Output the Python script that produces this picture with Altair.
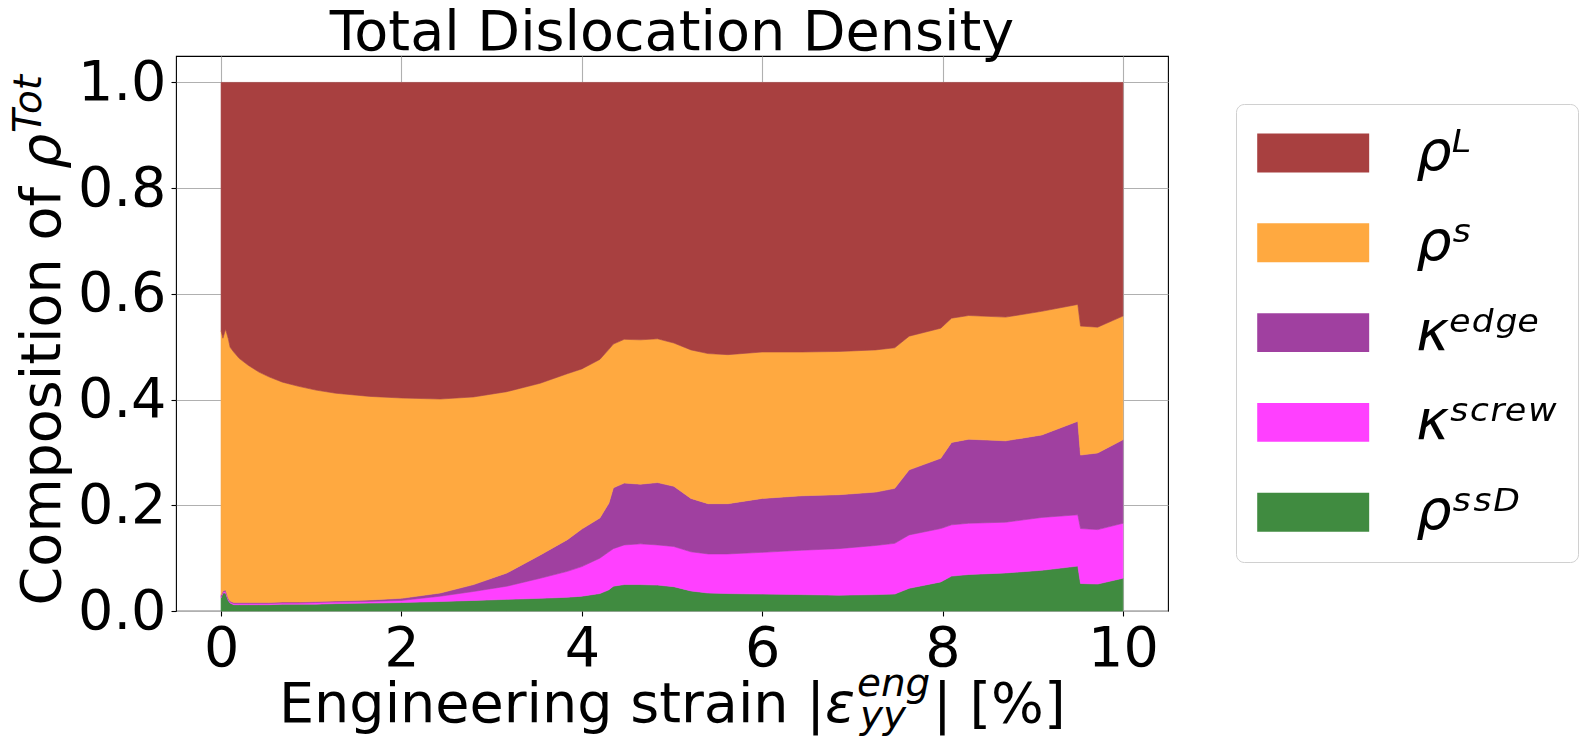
import altair as alt
import pandas as pd

# strain values [%]
strain = [0.0, 0.02, 0.05, 0.08, 0.1, 0.14, 0.2, 0.3, 0.42, 0.53, 0.68, 0.86, 1.05, 1.27,
          1.65, 2.0, 2.43, 2.8, 3.17, 3.54, 3.84, 4.0, 4.2, 4.3, 4.35, 4.47, 4.65, 4.84,
          5.02, 5.21, 5.4, 5.62, 6.0, 6.44, 6.85, 7.26, 7.47, 7.63, 7.98, 8.1, 8.29, 8.7,
          9.1, 9.5, 9.53, 9.72, 10.0]

# cumulative upper boundaries of each band
ssd_top = [0.025, 0.034, 0.034, 0.020, 0.015, 0.012, 0.012, 0.012, 0.012, 0.012, 0.013, 0.013,
           0.013, 0.014, 0.015, 0.016, 0.018, 0.020, 0.022, 0.024, 0.026, 0.028, 0.033, 0.040,
           0.047, 0.050, 0.050, 0.049, 0.046, 0.038, 0.034, 0.033, 0.032, 0.031, 0.030, 0.031,
           0.032, 0.043, 0.055, 0.066, 0.069, 0.072, 0.077, 0.085, 0.052, 0.051, 0.062]
screw_top = [0.027, 0.036, 0.037, 0.022, 0.017, 0.014, 0.014, 0.014, 0.014, 0.014, 0.015, 0.015,
             0.016, 0.017, 0.018, 0.020, 0.028, 0.037, 0.047, 0.062, 0.075, 0.084, 0.100, 0.112,
             0.118, 0.125, 0.127, 0.125, 0.122, 0.112, 0.108, 0.108, 0.111, 0.115, 0.118, 0.124,
             0.128, 0.144, 0.156, 0.163, 0.166, 0.168, 0.177, 0.182, 0.156, 0.154, 0.166]
edge_top = [0.030, 0.038, 0.040, 0.024, 0.019, 0.016, 0.016, 0.016, 0.016, 0.016, 0.017, 0.017,
            0.018, 0.019, 0.021, 0.024, 0.034, 0.050, 0.072, 0.106, 0.135, 0.155, 0.176, 0.204,
            0.233, 0.242, 0.240, 0.243, 0.236, 0.213, 0.203, 0.203, 0.213, 0.218, 0.220, 0.225,
            0.232, 0.267, 0.289, 0.319, 0.325, 0.322, 0.333, 0.359, 0.295, 0.299, 0.324]
s_top = [0.530, 0.516, 0.533, 0.515, 0.499, 0.490, 0.478, 0.465, 0.452, 0.443, 0.433, 0.425,
         0.418, 0.412, 0.406, 0.403, 0.401, 0.405, 0.415, 0.431, 0.449, 0.458, 0.476, 0.495,
         0.505, 0.514, 0.513, 0.515, 0.507, 0.494, 0.487, 0.485, 0.490, 0.490, 0.491, 0.494,
         0.498, 0.520, 0.535, 0.554, 0.559, 0.556, 0.567, 0.580, 0.539, 0.537, 0.558]
total_top = [1.0] * len(strain)

series = ["ρᴸ", "ρˢ", "κᵉᵈᵍᵉ", "κˢᶜʳᵉʷ", "ρˢˢᴰ"]
colors = ["#a84040", "#ffa940", "#a040a0", "#ff40ff", "#408b40"]

x_ticks = [0, 2, 4, 6, 8, 10]
y_ticks = [0.0, 0.2, 0.4, 0.6, 0.8, 1.0]

chart_title = "Total Dislocation Density"
# axis titles, split into their normal / italic / sub / superscript pieces
x_title_parts = ["Engineering strain |", "ε", "eng", "yy", "| [%]"]
y_title_parts = ["Composition of", "ρ", "Tot"]

bounds = {
    "ρˢˢᴰ": ([0.0] * len(strain), ssd_top),
    "κˢᶜʳᵉʷ": (ssd_top, screw_top),
    "κᵉᵈᵍᵉ": (screw_top, edge_top),
    "ρˢ": (edge_top, s_top),
    "ρᴸ": (s_top, total_top),
}

rows = []
for name, (lo, hi) in bounds.items():
    for xv, a, b in zip(strain, lo, hi):
        rows.append({"series": name, "x": xv, "lo": a, "hi": b})
df = pd.DataFrame(rows)

FONT = "DejaVu Sans"
FS = 55.6
FS_SMALL = 38.9

area = alt.Chart(df).mark_area(interpolate="linear", strokeWidth=0.6, opacity=1).encode(
    x=alt.X("x:Q",
            scale=alt.Scale(domain=[-0.5, 10.5], nice=False, zero=False),
            axis=alt.Axis(values=x_ticks, format="d", title=None)),
    y=alt.Y("lo:Q",
            scale=alt.Scale(domain=[0, 1.05], nice=False),
            axis=alt.Axis(values=y_ticks, format=".1f", title=None)),
    y2="hi:Q",
    color=alt.Color("series:N",
                    scale=alt.Scale(domain=series, range=colors),
                    legend=alt.Legend(
                        title=None, orient="none", legendX=1060, legendY=48,
                        symbolType="M-2.014,-0.7L2.014,-0.7L2.014,0.7L-2.014,0.7Z",
                        symbolSize=3091, symbolStrokeWidth=0, symbolOpacity=1,
                        symbolOffset=28.2,
                        labelFont=FONT, labelFontSize=FS, labelFontStyle="italic",
                        labelColor="black", labelOffset=75, rowPadding=32.8,
                        padding=21, strokeColor="#d0d0d0", fillColor="white",
                        cornerRadius=8, labelLimit=400)),
    stroke=alt.Color("series:N", scale=alt.Scale(domain=series, range=colors), legend=None),
)


def piece(txt, x, y, size=FS, style="normal", align="left", angle=0):
    return alt.Chart(pd.DataFrame({"t": [txt]})).mark_text(
        font=FONT, fontSize=size, fontStyle=style, align=align,
        baseline="alphabetic", angle=angle, color="black",
    ).encode(text="t:N", x=alt.value(x), y=alt.value(y))


title_mark = piece(chart_title, 496, -6, align="center")

x_title = [
    piece(x_title_parts[0], 649, 665.7, align="right"),
    piece(x_title_parts[1], 649, 665.7, style="italic"),
    piece(x_title_parts[2], 681, 640, size=FS_SMALL, style="italic"),
    piece(x_title_parts[3], 684, 672, size=FS_SMALL, style="italic"),
    piece(x_title_parts[4], 757, 665.7),
]

y_title = [
    piece(y_title_parts[0], -116, 131, align="right", angle=270),
    piece(y_title_parts[1], -116, 113, style="italic", angle=270),
    piece(y_title_parts[2], -135, 77, size=FS_SMALL, style="italic", angle=270),
]

chart = alt.layer(area, title_mark, *x_title, *y_title).properties(
    width=992, height=555,
    padding={"left": 168, "top": 48, "right": 417, "bottom": 136},
    autosize=alt.AutoSizeParams(type="none"),
).configure_view(
    stroke="black", strokeWidth=1.1
).configure_axis(
    labelFont=FONT, labelFontSize=FS, labelColor="black",
    tickColor="black", tickSize=5, tickWidth=1.1, labelPadding=5,
    domain=False, grid=True, gridColor="#b0b0b0", gridWidth=1.1, zindex=1,
)

chart.save("out.html", embed_options={"renderer": "svg", "actions": False})
